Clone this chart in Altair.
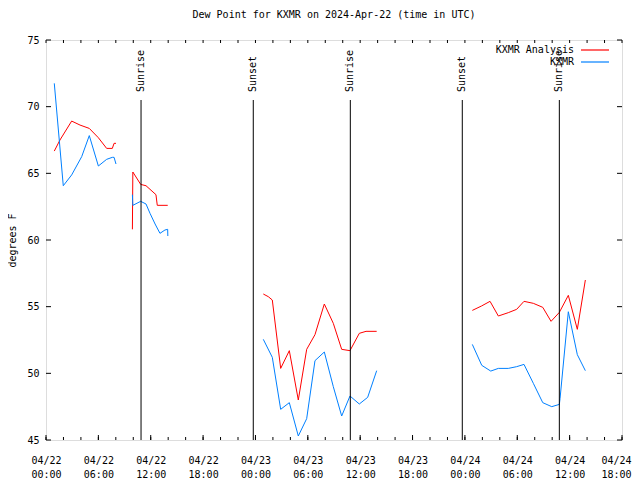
import altair as alt
import pandas as pd

# ---------------- data (hours since 2024-04-22 00:00 UTC, dew point in F) -------------
ana_hours_1 = [0.95, 1.6, 2.94, 3.9, 4.96, 6.0, 6.95, 7.6, 7.8, 8.02]
ana_dewpt_1 = [66.67, 67.5, 68.92, 68.62, 68.37, 67.67, 66.87, 66.87, 67.25, 67.25]
ana_hours_2 = [9.9, 9.95, 10.85, 11.46, 12.6, 12.75, 13.95]
ana_dewpt_2 = [60.8, 65.1, 64.17, 64.07, 63.4, 62.6, 62.6]
ana_hours_3 = [24.9, 25.47, 25.93, 26.89, 27.88, 28.91, 29.87, 30.82, 31.89, 32.92,
               33.88, 34.83, 35.9, 36.67, 37.89]
ana_dewpt_3 = [55.95, 55.75, 55.5, 50.37, 51.7, 48.0, 51.8, 52.9, 55.2, 53.75,
               51.8, 51.7, 53.0, 53.15, 53.15]
ana_hours_4 = [48.85, 49.9, 50.88, 51.83, 52.97, 53.93, 54.77, 55.84, 56.92, 57.87,
               58.82, 59.85, 60.88, 61.8]
ana_dewpt_4 = [54.72, 55.05, 55.4, 54.3, 54.55, 54.8, 55.4, 55.25, 54.95, 53.9,
               54.57, 55.85, 53.3, 57.0]

obs_hours_1 = [0.95, 1.98, 2.94, 4.09, 4.96, 6.0, 6.95, 7.6, 7.8, 8.02]
obs_dewpt_1 = [71.75, 64.07, 64.88, 66.25, 67.83, 65.55, 66.05, 66.2, 66.2, 65.7]
obs_hours_2 = [9.9, 9.95, 10.85, 11.46, 11.92, 12.5, 13.06, 13.63, 13.94, 13.96]
obs_dewpt_2 = [63.4, 62.6, 62.9, 62.7, 62.0, 61.2, 60.5, 60.75, 60.8, 60.3]
obs_hours_3 = [24.9, 25.93, 26.89, 27.88, 28.91, 29.87, 30.82, 31.89, 32.92, 33.88,
               34.83, 35.9, 36.86, 37.89]
obs_dewpt_3 = [52.55, 51.2, 47.3, 47.8, 45.3, 46.6, 50.95, 51.6, 49.0, 46.8,
               48.3, 47.7, 48.2, 50.2]
obs_hours_4 = [48.85, 49.93, 50.96, 51.83, 52.97, 53.93, 54.77, 55.84, 56.92, 57.95,
               58.82, 58.9, 59.85, 60.88, 61.8]
obs_dewpt_4 = [52.17, 50.6, 50.17, 50.37, 50.37, 50.5, 50.67, 49.25, 47.8, 47.5,
               47.67, 48.1, 54.62, 51.4, 50.2]

series_names = ["KXMR Analysis", "KXMR"]
series_colors = ["#ff0000", "#0080ff"]

event_hours = [10.89, 23.75, 34.87, 47.7, 58.82]
event_labels = ["Sunrise", "Sunset", "Sunrise", "Sunset", "Sunrise"]

x_major_ticks = list(range(0, 67, 6))
x_minor_ticks = list(range(0, 67, 2))
y_ticks = [45, 50, 55, 60, 65, 70, 75]

TITLE = "Dew Point for KXMR on 2024-Apr-22 (time in UTC)"
FONT = "DejaVu Sans Mono"

# ---------------- build tables ----------------
rows = []
for name, segs in [
    (series_names[0], [(ana_hours_1, ana_dewpt_1), (ana_hours_2, ana_dewpt_2),
                       (ana_hours_3, ana_dewpt_3), (ana_hours_4, ana_dewpt_4)]),
    (series_names[1], [(obs_hours_1, obs_dewpt_1), (obs_hours_2, obs_dewpt_2),
                       (obs_hours_3, obs_dewpt_3), (obs_hours_4, obs_dewpt_4)]),
]:
    for i, (hs, vs) in enumerate(segs):
        for j, (h, v) in enumerate(zip(hs, vs)):
            rows.append({"series": name, "seg": f"{name}-{i}", "order": j,
                         "hours": h, "dewpt": v})
df = pd.DataFrame(rows)
events = pd.DataFrame({"hours": event_hours, "label": event_labels})
xmaj = pd.DataFrame({"hours": x_major_ticks})
xmin = pd.DataFrame({"hours": x_minor_ticks})
yt = pd.DataFrame({"dewpt": y_ticks})

W, H = 576, 400
xscale = alt.Scale(domain=[0, 66], nice=False, zero=False)
yscale = alt.Scale(domain=[45, 75], nice=False, zero=False)

label_expr = ("['04/' + (22 + floor(datum.value/24)), "
              "(datum.value % 24 < 10 ? '0' : '') + (datum.value % 24) + ':00']")

x_axis = alt.Axis(values=x_major_ticks, labelExpr=label_expr, ticks=False,
                  domain=False, grid=False, title=None, labelPadding=15,
                  labelBaseline="top", labelLineHeight=14, labelFlush=False,
                  labelOverlap=False, labelFont=FONT, labelFontSize=10,
                  labelColor="black",
                  labelOffset={"condition": {"test": "datum.value >= 66", "value": -6},
                               "value": 0})
y_axis = alt.Axis(values=y_ticks, ticks=False, domain=False, grid=False,
                  title="degrees F", labelPadding=7, titleX=-34, titleY=200,
                  titleAngle=270, titleAlign="center", titleBaseline="middle",
                  titleFont=FONT, titleFontSize=10, titleFontWeight="normal",
                  titleColor="black", labelFont=FONT, labelFontSize=10,
                  labelColor="black")

X = lambda: alt.X("hours:Q", scale=xscale, axis=x_axis, title=None)
Y = lambda: alt.Y("dewpt:Q", scale=yscale, axis=y_axis, title="degrees F")

lines = alt.Chart(df).mark_line(strokeWidth=1).encode(
    x=X(), y=Y(),
    color=alt.Color("series:N", scale=alt.Scale(domain=series_names, range=series_colors),
                    legend=None),
    detail="seg:N",
    order="order:Q",
)

event_rules = alt.Chart(events).mark_rule(strokeWidth=1, stroke="black").encode(
    x=X(), y=alt.datum(45), y2=alt.datum(70.5),
)
event_text = alt.Chart(events).mark_text(
    angle=270, align="left", baseline="middle", font=FONT, fontSize=10, fill="black"
).encode(
    x=X(), y=alt.datum(71.1), text="label:N",
)

bot_major = alt.Chart(xmaj).mark_rule(stroke="black").encode(
    x=X(), y=alt.value(H), y2=alt.value(H - 5))
bot_minor = alt.Chart(xmin).mark_rule(stroke="black").encode(
    x=X(), y=alt.value(H), y2=alt.value(H - 3))
top_minor = alt.Chart(xmin).mark_rule(stroke="black").encode(
    x=X(), y=alt.value(0), y2=alt.value(3))
left_ticks = alt.Chart(yt).mark_rule(stroke="black").encode(
    y=Y(), x=alt.value(0), x2=alt.value(5))
right_ticks = alt.Chart(yt).mark_rule(stroke="black").encode(
    y=Y(), x=alt.value(W), x2=alt.value(W - 5))

# legend (gnuplot style: text then line sample), one row per series
legend_df = pd.DataFrame({
    "name": series_names,
    "color": series_colors,
    "ly": [10, 22],
})
legend_text = alt.Chart(legend_df).mark_text(
    align="right", baseline="middle", font=FONT, fontSize=10, fill="black"
).encode(
    x=alt.value(528),
    y=alt.Y("ly:Q", scale=None, axis=None),
    text="name:N",
)
legend_line = alt.Chart(legend_df).mark_rule(strokeWidth=1.2).encode(
    x=alt.value(535), x2=alt.value(563),
    y=alt.Y("ly:Q", scale=None, axis=None),
    stroke=alt.Stroke("color:N", scale=None, legend=None),
)

chart = alt.layer(
    lines, event_rules, event_text, bot_major, bot_minor, top_minor,
    left_ticks, right_ticks, legend_text, legend_line
).properties(
    width=W, height=H,
    title=alt.TitleParams(TITLE, font=FONT, fontSize=10, fontWeight="normal",
                          color="black", anchor="middle", offset=15),
    autosize=alt.AutoSizeParams(type="none"),
    padding={"left": 38, "top": 32, "right": 10, "bottom": 38},
).configure_view(
    stroke="black", strokeWidth=1
).configure_axis(
    labelFont=FONT, labelFontSize=10, labelColor="black",
    titleFont=FONT, titleFontSize=10, titleColor="black", titleFontWeight="normal",
).configure(background="white")

chart.save("out.html", embed_options={"renderer": "svg", "actions": False})
